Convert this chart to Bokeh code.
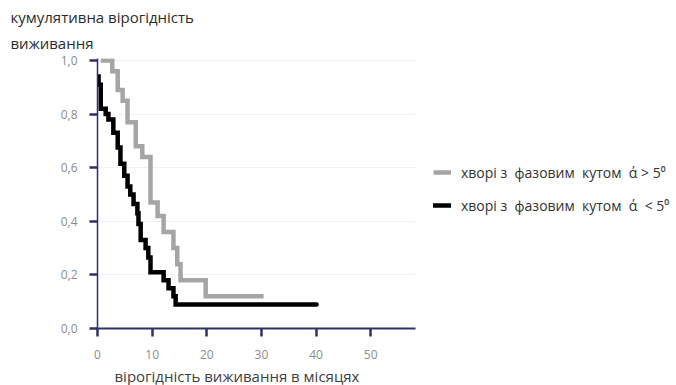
from bokeh.plotting import figure
from bokeh.models import Range1d, FixedTicker, Legend, LegendItem, Title
from bokeh.embed import file_html
from bokeh.resources import INLINE

# data
gray_t = [0.6, 2.7, 3.7, 4.6, 5.5, 7.0, 8.2, 9.7, 11.0, 12.1, 13.9, 14.6, 15.2, 19.8, 30.4]
gray_s = [1.0, 0.96, 0.89, 0.85, 0.77, 0.68, 0.64, 0.47, 0.42, 0.36, 0.30, 0.24, 0.18, 0.12, 0.12]
black_t = [0, 0.2, 0.6, 1.5, 2.0, 2.9, 3.7, 4.2, 4.9, 5.5, 6.0, 6.6, 7.3, 7.5, 7.9, 8.8, 9.3,
           9.7, 12.1, 13.0, 13.9, 14.3, 40.1]
black_s = [0.94, 0.91, 0.82, 0.80, 0.78, 0.73, 0.675, 0.615, 0.57, 0.53, 0.50, 0.465, 0.43,
           0.39, 0.33, 0.30, 0.265, 0.21, 0.18, 0.15, 0.12, 0.09, 0.09]
x_ticks = [0, 10, 20, 30, 40, 50]
y_ticks = [0.0, 0.2, 0.4, 0.6, 0.8, 1.0]
y_tick_labels = ["0,0", "0,2", "0,4", "0,6", "0,8", "1,0"]
legend_labels = ["хворі з  фазовим  кутом  ά > 5⁰", "хворі з  фазовим  кутом  ά  < 5⁰"]
title_lines = ["кумулятивна вірогідність", "виживання"]
x_label = "вірогідність  виживання  в  місяцях"

FONT = "Open Sans"

p = figure(output_backend="svg", toolbar_location=None,
           width=668, height=377,
           frame_width=318, frame_height=270,
           min_border_left=97, min_border_right=253,
           min_border_top=58, min_border_bottom=49,
           x_range=Range1d(0, 58.2), y_range=Range1d(0, 1.0075))

p.outline_line_color = None
p.background_fill_color = "white"
p.border_fill_color = "white"
p.xgrid.grid_line_color = None
p.ygrid.grid_line_color = "#f1f1f1"
p.ygrid.ticker = FixedTicker(ticks=y_ticks)

rg = p.step(gray_t, gray_s, mode="after", line_color="#a5a5a5", line_width=4.5,
            line_join="miter")
rb = p.step(black_t, black_s, mode="after", line_color="#000000", line_width=4.5,
            line_join="miter", line_cap="round")

for ax in (p.xaxis[0], p.yaxis[0]):
    ax.axis_line_color = "#2e3163"
    ax.major_tick_line_color = "#2e3163"
    ax.minor_tick_line_color = None
    ax.major_label_text_color = "#8c8c8c"
    ax.major_label_text_font = FONT
    ax.major_label_text_font_size = "12px"
    ax.major_tick_out = 8
    ax.major_tick_in = 0

p.xaxis[0].axis_line_width = 2
p.xaxis[0].major_tick_line_width = 2.5
p.xaxis[0].ticker = FixedTicker(ticks=x_ticks)
p.xaxis[0].major_label_standoff = 13
p.yaxis[0].axis_line_width = 1.5
p.yaxis[0].major_tick_line_width = 2.5
p.yaxis[0].ticker = FixedTicker(ticks=y_ticks)
p.yaxis[0].major_label_overrides = {t: l for t, l in zip(y_ticks, y_tick_labels)}
p.yaxis[0].major_label_standoff = 12

# x-axis label as a title below the axis
p.add_layout(Title(text=x_label, align="left", offset=17, text_font=FONT,
                   text_font_size="15px", text_font_style="normal",
                   text_color="#404040", standoff=4), "below")

# two-line title, top left
p.add_layout(Title(text=title_lines[1], align="left", offset=-87, text_font=FONT,
                   text_font_size="15px", text_font_style="normal",
                   text_color="#2b2b2b", standoff=11), "above")
p.add_layout(Title(text=title_lines[0], align="left", offset=-87, text_font=FONT,
                   text_font_size="15px", text_font_style="normal",
                   text_color="#2b2b2b", standoff=-3), "above")

legend = Legend(items=[LegendItem(label=legend_labels[0], renderers=[rg]),
                       LegendItem(label=legend_labels[1], renderers=[rb])],
                location=(18, 113), margin=0, padding=0, spacing=13,
                glyph_width=18, glyph_height=20, label_standoff=10,
                label_text_font=FONT, label_text_font_size="14px",
                label_text_color="#333333",
                border_line_color=None, background_fill_alpha=0)
p.add_layout(legend, "right")

open("out.html", "w").write(file_html(p, INLINE))
